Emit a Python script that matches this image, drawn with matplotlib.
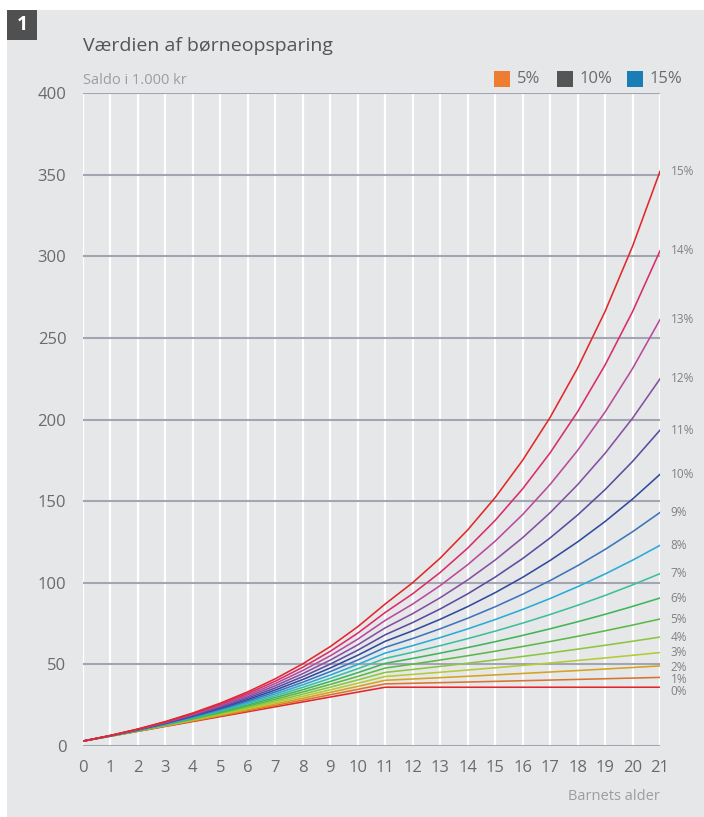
import matplotlib
matplotlib.use("Agg")
import matplotlib.pyplot as plt
from matplotlib.patches import Rectangle

# Age of the child (years)
ages = list(range(22))

# Balance in 1,000 kr for each annual return rate (0% .. 15%)
rate_labels = ["0%", "1%", "2%", "3%", "4%", "5%", "6%", "7%",
               "8%", "9%", "10%", "11%", "12%", "13%", "14%", "15%"]

r00 = [3.0, 6.0, 9.0, 12.0, 15.0, 18.0, 21.0, 24.0, 27.0, 30.0, 33.0, 36.0,
       36.0, 36.0, 36.0, 36.0, 36.0, 36.0, 36.0, 36.0, 36.0, 36.0]
r01 = [3.0, 6.03, 9.09, 12.18, 15.30, 18.46, 21.64, 24.86, 28.11, 31.39, 34.70, 38.05,
       38.43, 38.81, 39.20, 39.59, 39.99, 40.39, 40.79, 41.20, 41.61, 42.03]
r02 = [3.0, 6.06, 9.18, 12.36, 15.61, 18.92, 22.30, 25.75, 29.26, 32.85, 36.51, 40.24,
       41.04, 41.87, 42.70, 43.56, 44.43, 45.32, 46.22, 47.15, 48.09, 49.05]
r03 = [3.0, 6.09, 9.27, 12.55, 15.93, 19.41, 22.99, 26.68, 30.48, 34.39, 38.42, 42.58,
       43.86, 45.17, 46.53, 47.92, 49.36, 50.84, 52.37, 53.94, 55.56, 57.22]
r04 = [3.0, 6.12, 9.36, 12.74, 16.25, 19.90, 23.70, 27.64, 31.75, 36.02, 40.46, 45.08,
       46.88, 48.76, 50.71, 52.74, 54.85, 57.04, 59.32, 61.70, 64.16, 66.73]
r05 = [3.0, 6.15, 9.46, 12.93, 16.58, 20.41, 24.43, 28.65, 33.08, 37.73, 42.62, 47.75,
       50.14, 52.65, 55.28, 58.04, 60.94, 63.99, 67.19, 70.55, 74.07, 77.78]
r06 = [3.0, 6.18, 9.55, 13.12, 16.91, 20.93, 25.18, 29.69, 34.47, 39.54, 44.91, 50.61,
       53.65, 56.87, 60.28, 63.89, 67.73, 71.79, 76.10, 80.66, 85.51, 90.63]
r07 = [3.0, 6.21, 9.64, 13.32, 17.25, 21.46, 25.96, 30.78, 35.93, 41.45, 47.35, 53.67,
       57.43, 61.45, 65.75, 70.35, 75.28, 80.54, 86.18, 92.22, 98.67, 105.58]
r08 = [3.0, 6.24, 9.74, 13.52, 17.60, 22.01, 26.77, 31.91, 37.46, 43.46, 49.94, 56.93,
       61.48, 66.40, 71.72, 77.45, 83.65, 90.34, 97.57, 105.37, 113.80, 122.91]
r09 = [3.0, 6.27, 9.83, 13.72, 17.95, 22.57, 27.60, 33.09, 39.06, 45.58, 52.68, 60.42,
       65.86, 71.79, 78.24, 85.29, 92.96, 101.33, 110.45, 120.40, 131.23, 143.04]
r10 = [3.0, 6.30, 9.93, 13.92, 18.32, 23.15, 28.46, 34.31, 40.74, 47.81, 55.59, 64.15,
       70.57, 77.62, 85.38, 93.92, 103.31, 113.65, 125.01, 137.51, 151.26, 166.39]
r11 = [3.0, 6.33, 10.03, 14.13, 18.68, 23.74, 29.35, 35.58, 42.49, 50.17, 58.68, 68.14,
       75.64, 83.95, 93.19, 103.44, 114.82, 127.45, 141.47, 157.03, 174.30, 193.48]
r12 = [3.0, 6.36, 10.12, 14.34, 19.06, 24.35, 30.27, 36.90, 44.33, 52.65, 61.96, 72.40,
       81.09, 90.82, 101.71, 113.92, 127.59, 142.90, 160.05, 179.26, 200.77, 224.86]
r13 = [3.0, 6.39, 10.22, 14.55, 19.44, 24.97, 31.21, 38.27, 46.25, 55.26, 65.44, 76.95,
       86.95, 98.26, 111.03, 125.47, 141.77, 160.21, 181.03, 204.56, 231.16, 261.21]
r14 = [3.0, 6.42, 10.32, 14.76, 19.83, 25.61, 32.19, 39.70, 48.26, 58.01, 69.13, 81.81,
       93.26, 106.32, 121.20, 138.18, 157.52, 179.57, 204.71, 233.37, 266.04, 303.29]
r15 = [3.0, 6.45, 10.42, 14.98, 20.23, 26.26, 33.20, 41.18, 50.36, 60.91, 73.05, 87.01,
       100.06, 115.07, 132.33, 152.18, 175.01, 201.26, 231.45, 266.16, 306.09, 352.01]

series = [r00, r01, r02, r03, r04, r05, r06, r07,
          r08, r09, r10, r11, r12, r13, r14, r15]

line_colors = ["#e3262b", "#d9742e", "#d6a21f", "#b3cb35", "#8cc63f", "#5cb947",
               "#3fb55a", "#3dbf9f", "#29abd8", "#3d74bd", "#2f4b9e", "#5a4ca0",
               "#8650a2", "#b84a9c", "#d92c6c", "#e1282b"]

# Vertical nudge (points) for end labels that would otherwise collide
label_nudge = [-3.0, -1.8, -1.3, 0, 0, 0, 0, 0, 0, 0, 0, 0, 0, 0, 0, 0]

legend_labels = ["5%", "10%", "15%"]
legend_colors = ["#ef7d31", "#555555", "#1b7db5"]

x_ticks = list(range(22))
y_ticks = [0, 50, 100, 150, 200, 250, 300, 350, 400]

BG = "#e6e7e8"
GRID_H = "#a4a5b3"
TXT = "#6a6b6d"
TXT_LIGHT = "#9c9d9f"
FONT = ["Open Sans", "DejaVu Sans"]

plt.rcParams["font.family"] = FONT

fig = plt.figure(figsize=(7.04, 8.17), dpi=100)
fig.patch.set_facecolor("white")

# Grey panel and the numbered badge
fig.patches.append(Rectangle((7 / 704, 0), 1, 1 - 10 / 817, transform=fig.transFigure,
                             facecolor=BG, edgecolor="none", zorder=-10))
fig.patches.append(Rectangle((7 / 704, 1 - 40 / 817), 30 / 704, 30 / 817,
                             transform=fig.transFigure, facecolor="#505050",
                             edgecolor="none", zorder=-5))
fig.text(22 / 704, 1 - 25 / 817, "1", color="white", fontsize=14, fontweight="bold",
         ha="center", va="center")

ax = fig.add_axes([83 / 704, 1 - 746 / 817, 577 / 704, 653 / 817])
ax.set_zorder(2)
ax.set_facecolor(BG)
ax.set_xlim(0, 21)
ax.set_ylim(0, 400)

for x in x_ticks:
    ax.axvline(x, color="white", lw=1.6, zorder=1)
for y in y_ticks:
    ax.axhline(y, color=GRID_H, lw=1.5, zorder=1.5)

for vals, col in zip(series, line_colors):
    ax.plot(ages, vals, color=col, lw=1.15, zorder=3, solid_joinstyle="miter")

for vals, lab, dy in zip(series, rate_labels, label_nudge):
    ax.annotate(lab, xy=(ages[-1], vals[-1]), xytext=(7.5, dy), textcoords="offset points",
                ha="left", va="center", fontsize=8.5, color="#808183",
                annotation_clip=False)

for s in ax.spines.values():
    s.set_visible(False)

ax.set_xticks(x_ticks)
ax.set_yticks(y_ticks)
ax.tick_params(length=0, colors=TXT, labelsize=12)
ax.tick_params(axis="x", pad=10)
ax.tick_params(axis="y", pad=12)

fig.text(83 / 704, 1 - 46 / 817, "Værdien af børneopsparing", fontsize=14,
         color="#555555", ha="left", va="center")
fig.text(83 / 704, 1 - 80 / 817, "Saldo i 1.000 kr", fontsize=10.5,
         color=TXT_LIGHT, ha="left", va="center")
fig.text(660 / 704, 1 - 797 / 817, "Barnets alder", fontsize=10.5,
         color=TXT_LIGHT, ha="right", va="center")

# Legend swatches
legend_x = [494, 557, 627]
for lx, lab, col in zip(legend_x, legend_labels, legend_colors):
    fig.patches.append(Rectangle((lx / 704, 1 - 87 / 817), 16 / 704, 16 / 817,
                                 transform=fig.transFigure, facecolor=col,
                                 edgecolor="none", zorder=3))
    fig.text((lx + 23) / 704, 1 - 79 / 817, lab, fontsize=12, color=TXT,
             ha="left", va="center")

fig.savefig("out.png", dpi=100, facecolor=fig.get_facecolor())
